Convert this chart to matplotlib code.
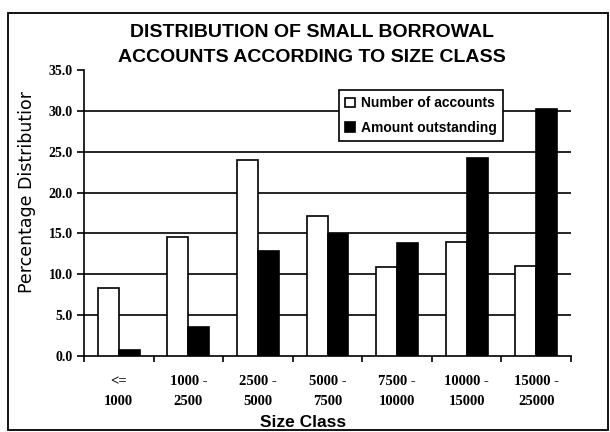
import numpy as np
import matplotlib
matplotlib.use("Agg")
import matplotlib.pyplot as plt
from matplotlib.patches import Rectangle
from matplotlib.transforms import Bbox

# Size classes and percentage shares
size_classes = ["<=\n1000", "1000 -\n2500", "2500 -\n5000", "5000 -\n7500",
                "7500 -\n10000", "10000 -\n15000", "15000 -\n25000"]
num_accounts = [8.3, 14.6, 24.0, 17.1, 10.9, 14.0, 11.0]
amount_outstanding = [0.7, 3.6, 12.8, 14.9, 13.8, 24.2, 30.2]
y_ticks = [0, 5, 10, 15, 20, 25, 30, 35]

fig = plt.figure(figsize=(6.10, 4.32), dpi=100)
ax = fig.add_axes([0.1377, 0.1759, 0.7984, 0.662])

x = np.arange(len(size_classes))
w = 0.3
ax.bar(x - w / 2, num_accounts, w, color="white", edgecolor="black",
       linewidth=1.2, label="Number of accounts", zorder=3)
ax.bar(x + w / 2, amount_outstanding, w, color="black", edgecolor="black",
       linewidth=1.2, label="Amount outstanding", zorder=3)

ax.set_xlim(-0.5, len(size_classes) - 0.5)
ax.set_ylim(0, 35)
ax.set_yticks(y_ticks)
ax.set_yticklabels([f"{v:.1f}" for v in y_ticks],
                   fontfamily="Liberation Serif", fontweight="bold", fontsize=10)
for v in y_ticks[1:-1]:
    ax.axhline(v, color="black", linewidth=1.2, zorder=1)

# category boundary ticks, labels centred on the groups
ax.set_xticks(np.arange(len(size_classes) + 1) - 0.5)
ax.set_xticklabels([])
ax.set_xticks(x, minor=True)
ax.set_xticklabels(size_classes, minor=True, fontfamily="Liberation Serif",
                   fontweight="bold", fontsize=10.5, linespacing=1.65)
ax.tick_params(axis="x", which="minor", length=0, pad=14)
ax.tick_params(axis="x", which="major", length=4, width=1.2, direction="out")
ax.tick_params(axis="y", length=5, width=1.2, direction="out", pad=3)

for s in ["top", "right"]:
    ax.spines[s].set_visible(False)
for s in ["left", "bottom"]:
    ax.spines[s].set_linewidth(1.2)

leg = ax.legend(loc="upper left", bbox_to_anchor=(0.523, 0.93), frameon=True,
                fancybox=False, edgecolor="black", framealpha=1,
                prop={"family": "Liberation Sans", "weight": "bold", "size": 10},
                handlelength=0.7, handleheight=0.7, handletextpad=0.45,
                borderpad=0.45, labelspacing=0.75, borderaxespad=0)
leg.get_frame().set_linewidth(1.2)
leg.set_zorder(5)

fig.text(0.512, 0.945, "DISTRIBUTION OF SMALL BORROWAL\nACCOUNTS ACCORDING TO SIZE CLASS",
         ha="center", va="top", fontfamily="Liberation Sans", fontweight="bold",
         fontsize=14, linespacing=1.6)
fig.text(0.497, 0.012, "Size Class", ha="center", va="baseline",
         fontfamily="Liberation Sans", fontweight="bold", fontsize=12.5)
fig.text(0.52, 1.012, "CHART - 4", ha="center", va="center",
         fontfamily="Liberation Serif", fontweight="bold", fontsize=11)

# y label is cut off at the top of the plot frame
ylab = fig.text(0.044, 0.322, "Percentage Distribution", rotation=90,
                ha="center", va="bottom", fontfamily="DejaVu Sans", fontsize=12.5)
ylab.set_clip_box(Bbox.from_extents(0, 0, 610, 432 - 92))
ylab.set_clip_on(True)

fig.patches.append(Rectangle((0.013, 0.004), 0.984, 0.965, transform=fig.transFigure,
                             fill=False, edgecolor="black", linewidth=1.3))

fig.savefig("out.png", dpi=100)
